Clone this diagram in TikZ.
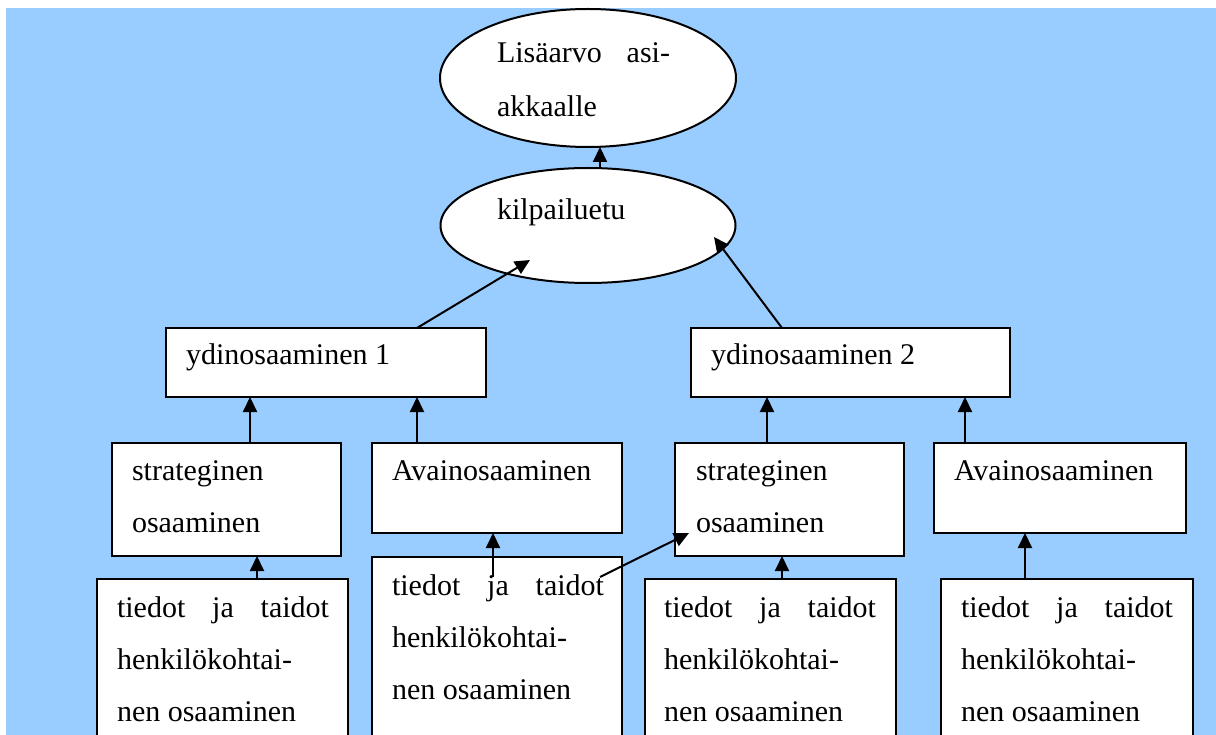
\documentclass[tikz,border=0pt]{standalone}
\usepackage{fontspec}
\setmainfont{Liberation Serif}
\usetikzlibrary{shapes.geometric,arrows.meta}
\definecolor{skyfill}{HTML}{99CCFF}
\tikzset{
  box/.style={draw, fill=white, line width=2pt, inner sep=0pt, outer sep=0pt, anchor=north west},
  oval/.style={draw, fill=white, ellipse, line width=2pt, inner sep=0pt, outer sep=0pt},
  txt/.style={anchor=base west, inner sep=0pt, outer sep=0pt, font=\fontsize{30}{52}\selectfont},
  arr/.style={line width=2pt, -{Triangle[length=15pt,width=14pt]}}
}
\newcommand{\spreadline}[2]{\makebox[#1][s]{#2}}
\begin{document}
\begin{tikzpicture}[x=1pt, y=-1pt]
\useasboundingbox (0,0) rectangle (1216,735);
\clip (0,0) rectangle (1216,735);
\fill[white] (0,0) rectangle (1216,735);
\fill[skyfill] (6,8) rectangle (1216,735);

% top ovals
\node[oval, minimum width=296pt, minimum height=138pt] (L) at (588,78) {};
\node[oval, minimum width=295pt, minimum height=115pt] (K) at (588,225.5) {};
\node[txt] (Lt1) at (497,63) {\spreadline{173pt}{Lisäarvo asi-}};
\node[txt] (Lt2) at (497,117) {akkaalle};
\node[txt] (Kt) at (497,220) {kilpailuetu};

% core competence boxes
\node[box, minimum width=320pt, minimum height=69pt] (Y1) at (166,328) {};
\node[box, minimum width=319pt, minimum height=69pt] (Y2) at (691,328) {};
\node[txt] (Y1t) at (186,365) {ydinosaaminen 1};
\node[txt] (Y2t) at (711,365) {ydinosaaminen 2};

% second level
\node[box, minimum width=229pt, minimum height=113pt] (S1) at (112,443) {};
\node[box, minimum width=250pt, minimum height=90pt] (A1) at (372,443) {};
\node[box, minimum width=229pt, minimum height=113pt] (S2) at (675,443) {};
\node[box, minimum width=252pt, minimum height=90pt] (A2) at (934,443) {};
\node[txt] (S1t1) at (132,480) {strateginen};
\node[txt] (S1t2) at (132,532) {osaaminen};
\node[txt] (A1t) at (392,480) {Avainosaaminen};
\node[txt] (S2t1) at (696,480) {strateginen};
\node[txt] (S2t2) at (696,532) {osaaminen};
\node[txt] (A2t) at (954,480) {Avainosaaminen};

% bottom level
\node[box, minimum width=251pt, minimum height=200pt] (B1) at (97,579) {};
\node[box, minimum width=250pt, minimum height=220pt] (B2) at (372,557) {};
\node[box, minimum width=251pt, minimum height=200pt] (B3) at (645,579) {};
\node[box, minimum width=252pt, minimum height=200pt] (B4) at (941,579) {};

\node[txt] (B1t1) at (117,617) {\spreadline{212pt}{tiedot ja taidot}};
\node[txt] (B1t2) at (117,669) {henkilökohtai-};
\node[txt] (B1t3) at (117,721) {nen osaaminen};
\node[txt] (B2t1) at (392,595) {\spreadline{212pt}{tiedot ja taidot}};
\node[txt] (B2t2) at (392,647) {henkilökohtai-};
\node[txt] (B2t3) at (392,699) {nen osaaminen};
\node[txt] (B3t1) at (664,617) {\spreadline{212pt}{tiedot ja taidot}};
\node[txt] (B3t2) at (664,669) {henkilökohtai-};
\node[txt] (B3t3) at (664,721) {nen osaaminen};
\node[txt] (B4t1) at (961,617) {\spreadline{212pt}{tiedot ja taidot}};
\node[txt] (B4t2) at (961,669) {henkilökohtai-};
\node[txt] (B4t3) at (961,721) {nen osaaminen};

% connectors
\draw[arr] ([xshift=12pt]K.north) -- ([xshift=12pt]L.south);
\draw[arr] ([xshift=251pt]Y1.north west) -- ([xshift=-58pt,yshift=-34.5pt]K.center);
\draw[arr] ([xshift=91pt]Y2.north west) -- ([xshift=126pt,yshift=-11.5pt]K.center);
\draw[arr] ([xshift=138pt]S1.north west) -- ([xshift=84pt]Y1.south west);
\draw[arr] ([xshift=45pt]A1.north west) -- ([xshift=251pt]Y1.south west);
\draw[arr] ([xshift=92pt]S2.north west) -- ([xshift=76pt]Y2.south west);
\draw[arr] ([xshift=31pt]A2.north west) -- ([xshift=274pt]Y2.south west);
\draw[arr] ([xshift=160pt]B1.north west) -- ([xshift=145pt]S1.south west);
\draw[arr] ([xshift=121pt,yshift=-20pt]B2.north west) -- ([xshift=121pt]A1.south west);
\draw[arr] ([xshift=228pt,yshift=-20pt]B2.north west) -- ([xshift=14pt,yshift=23pt]S2.south west);
\draw[arr] ([xshift=137pt]B3.north west) -- ([xshift=107pt]S2.south west);
\draw[arr] ([xshift=84pt]B4.north west) -- ([xshift=91pt]A2.south west);
\end{tikzpicture}
\end{document}
